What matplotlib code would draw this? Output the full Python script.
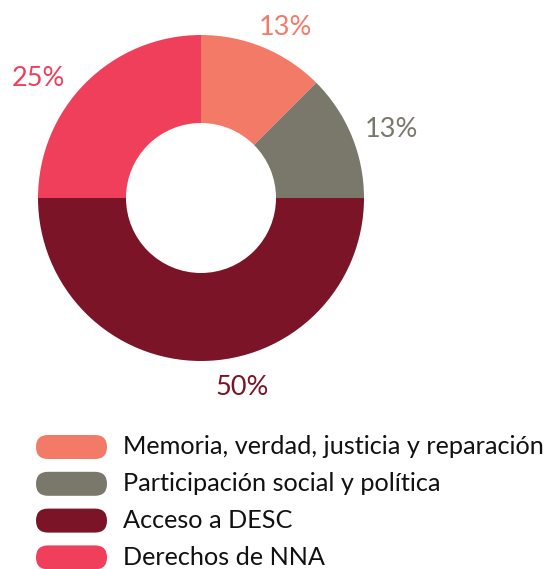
import numpy as np
import matplotlib.pyplot as plt
from matplotlib.patches import FancyBboxPatch

categories = ["Memoria, verdad, justicia y reparación",
              "Participación social y política",
              "Acceso a DESC",
              "Derechos de NNA"]
values = [12.5, 12.5, 50, 25]
labels = ["13%", "13%", "50%", "25%"]
colors = ["#F47A68", "#7A786B", "#7A1426", "#F03F5B"]

# label placement (angle in degrees, distance in px from centre)
label_pos = [(63.7, 190), (19.7, 202), (-77.8, 194), (143.6, 202)]

W, H = 550, 569
fig = plt.figure(figsize=(W / 100, H / 100), dpi=100)
ax = fig.add_axes([0, 0, 1, 1])

cx, cy, r = 201, H - 198, 163
ax.pie(values, colors=colors, startangle=90, counterclock=False,
       center=(cx, cy), radius=r, wedgeprops=dict(width=r - 75),
       frame=True)
ax.set_xlim(0, W)
ax.set_ylim(0, H)
ax.set_aspect("equal")
ax.axis("off")

for lab, col, (ang, d) in zip(labels, colors, label_pos):
    a = np.deg2rad(ang)
    ax.text(cx + d * np.cos(a), cy + d * np.sin(a), lab, color=col,
            fontsize=19.5, fontfamily="Lato", fontweight="normal",
            ha="center", va="center")

# legend
y0, step = H - 447, 36.8
for i, (cat, col) in enumerate(zip(categories, colors)):
    y = y0 - i * step
    ax.add_patch(FancyBboxPatch((48, y), 47, 0,
                                boxstyle="round,pad=12", fc=col, ec="none"))
    ax.text(123, y, cat, fontsize=18.2, fontfamily="Lato", color="#111111",
            ha="left", va="center")

fig.savefig("out.png", dpi=100)
